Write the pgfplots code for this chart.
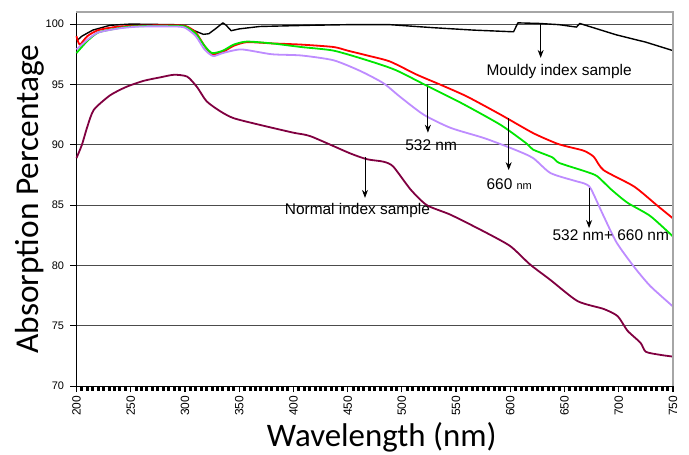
\documentclass[border=0pt]{standalone}
\usepackage{fontspec}
\setmainfont{Liberation Sans}
\newfontfamily\carlito{Carlito}
\usepackage{pgfplots}
\pgfplotsset{compat=1.18}
\usetikzlibrary{arrows.meta}

\definecolor{cRed}{RGB}{255,0,0}
\definecolor{cGreen}{RGB}{0,230,0}
\definecolor{cPurple}{RGB}{190,140,255}
\definecolor{cMaroon}{RGB}{128,0,64}

\newcommand{\annfont}{\fontsize{15.5}{18}\selectfont}

\begin{document}
\begin{tikzpicture}
\begin{axis}[
  width=596.5bp, height=374.2bp, scale only axis,
  xmin=200, xmax=750, ymin=70, ymax=101,
  xtick={200,250,...,750}, ytick={70,75,...,100},
  minor x tick num=9,
  axis lines*=left,
  axis line style={black, line width=1.2bp},
  ymajorgrids,
  grid style={black!70, line width=0.9bp},
  tick align=outside,
  major tick length=6bp, minor tick length=4.5bp,
  xtick style={black, line width=1.2bp},
  ytick style={black, line width=1bp},
  minor x tick style={black, line width=3bp},
  tick label style={font=\fontsize{11}{13}\selectfont},
  x tick label style={font=\fontsize{12}{14}\selectfont, rotate=90, anchor=east},
  y tick label style={xshift=-3bp},
  /pgf/number format/assume math mode=true,
  clip=false,
  every axis plot/.append style={line join=round},
]
% Mouldy index sample
\addplot[black, line width=1.4bp] coordinates {
(200,98.6) (205,99.0) (215,99.5) (231,99.9) (250,100.0) (290,99.95) (300,99.85)
(310,99.4) (317,99.15) (322,99.2) (328,99.6) (335,100.1) (338,99.9) (342.6,99.45)
(350,99.6) (369,99.8) (416,99.9) (450,99.95) (489,99.95) (529,99.7) (566,99.5)
(603,99.36) (607,100.1) (627,100.05) (645,99.95) (661,99.75) (664,100.05)
(698,99.1) (725,98.5) (750,97.8)};
% 660 nm
\addplot[cRed, line width=1.8bp, smooth, tension=0.4] coordinates {
(200,99.0) (203,98.3) (210,99.0) (220,99.5) (235,99.75) (250,99.85) (280,99.9)
(300,99.85) (310,99.3) (318,98.2) (325,97.5) (335,97.7) (345,98.2) (357,98.5)
(380,98.4) (407,98.3) (437,98.1) (450,97.8) (468,97.4) (489,96.9) (514,95.8)
(536,94.96) (560,94.0) (591,92.5) (621,90.97) (643,90.1) (655,89.8) (668,89.5)
(677,89.0) (686,87.9) (714,86.55) (735,85.0) (750,83.9)};
% 532 nm
\addplot[cGreen, line width=1.8bp, smooth, tension=0.4] coordinates {
(200,97.6) (210,98.6) (220,99.3) (235,99.6) (250,99.8) (280,99.85) (300,99.8)
(310,99.2) (318,98.2) (325,97.6) (335,97.8) (345,98.3) (357,98.55) (380,98.4)
(407,98.1) (437,97.8) (468,97.0) (494,96.2) (525,94.8) (555,93.45) (591,91.65)
(615,90.1) (621,89.6) (639,88.95) (645,88.5) (669,87.8) (680,87.4) (693,86.3)
(708,85.2) (729,84.1) (750,82.4)};
% 532 nm + 660 nm
\addplot[cPurple, line width=1.8bp, smooth, tension=0.4] coordinates {
(200,97.9) (210,98.7) (220,99.3) (240,99.65) (260,99.8) (290,99.8) (300,99.7)
(310,99.0) (318,97.9) (326,97.35) (335,97.6) (352,97.9) (380,97.5) (407,97.4)
(437,97.0) (462,96.1) (483,95.1) (498,94.0) (520,92.5) (545,91.4) (576,90.55)
(604,89.6) (621,88.9) (637,87.66) (660,87.0) (668,86.8) (674,86.4) (686,84.1)
(698,81.9) (714,79.9) (729,78.3) (750,76.6)};
% Normal index sample
\addplot[cMaroon, line width=1.8bp, smooth, tension=0.4] coordinates {
(200,88.9) (205,90.0) (210,91.5) (216,92.9) (231,94.1) (246,94.8) (262,95.3)
(278,95.6) (290,95.8) (302,95.65) (311,94.8) (320,93.6) (333,92.75) (345,92.2)
(369,91.65) (400,91.0) (416,90.7) (452,89.3) (468,88.8) (483,88.6) (492,88.2)
(508,86.3) (523,85.0) (545,84.2) (576,82.8) (600,81.6) (618,80.1) (637,78.8)
(662,77.05) (686,76.4) (699,75.8) (708,74.6) (720,73.6) (725,72.85) (738,72.6)
(750,72.45)};

% plot area border (top and right)
\draw[black!35, line width=1.2bp] (rel axis cs:0,1) -- (rel axis cs:1,1) -- (rel axis cs:1,0);

% annotations
\tikzset{ann/.style={-{Stealth[length=8bp,width=6bp]}, black, line width=0.9bp}}
\draw[ann] (axis cs:628,100) -- (axis cs:628,97.2);
\node[font=\annfont] at (axis cs:645,96.1) {Mouldy index sample};
\draw[ann] (axis cs:524,94.8) -- (axis cs:524,91.0);
\node[font=\annfont] at (axis cs:527,90.0) {532 nm};
\draw[ann] (axis cs:598.5,92.2) -- (axis cs:598.5,87.9);
\node[font=\annfont] at (axis cs:599,86.7) {660 {\fontsize{11}{13}\selectfont nm}};
\draw[ann] (axis cs:672.6,86.4) -- (axis cs:672.6,83.1);
\node[font=\annfont] at (axis cs:692.6,82.5) {532 nm+ 660 nm};
\draw[ann] (axis cs:466,89.0) -- (axis cs:466,85.6);
\node[font=\annfont] at (axis cs:459,84.55) {Normal index sample};
\end{axis}
\node[rotate=90, anchor=base, font=\carlito\fontsize{33.5}{40}\selectfont]
  at ([xshift=-38.5bp]current axis.west) {Absorption Percentage};
\node[anchor=base, font=\carlito\fontsize{33}{40}\selectfont]
  at ([xshift=7bp, yshift=-60bp]current axis.south) {Wavelength (nm)};
\pgfresetboundingbox
\useasboundingbox ([shift={(-76.5bp,-68bp)}]current axis.south west) rectangle ([shift={(16bp,12bp)}]current axis.north east);
\end{tikzpicture}
\end{document}
